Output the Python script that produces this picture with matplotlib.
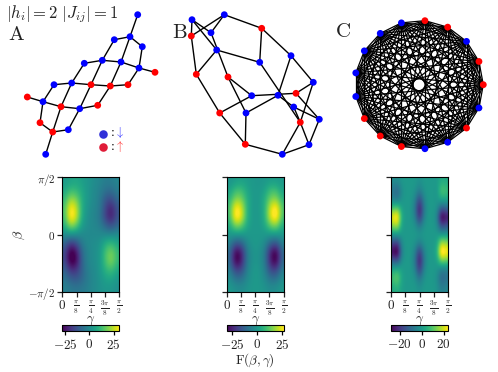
import numpy as np
import matplotlib
matplotlib.use('Agg')
import matplotlib.pyplot as plt

plt.rcParams['mathtext.fontset'] = 'cm'
plt.rcParams['font.family'] = 'cmr10'
plt.rcParams['axes.unicode_minus'] = True
plt.rcParams['axes.formatter.use_mathtext'] = True

W, H = 498, 372

# graph A, heavy-hex like lattice
a_x = [137.7, 130, 114.3, 142.3, 84.3, 102.3, 121, 139, 155, 54, 71.7, 91, 110.3, 128, 27.3, 43, 61, 79.7, 97.7, 40, 52.7, 68.3, 45.7]
a_y = [14.7, 36.7, 39.7, 46.7, 63.3, 60.3, 62, 68, 72.3, 84.7, 83, 84.7, 86, 84.7, 97, 101.7, 106.7, 108.7, 105.3, 122.7, 132, 129.7, 154.3]
a_spin = list('bbbbbbbbrbbrrrrbrbrrrbb')
a_edges = [(0, 1), (1, 2), (1, 3), (1, 6), (2, 5), (3, 7), (4, 5), (5, 6), (6, 7), (7, 8),
           (4, 10), (5, 11), (6, 12), (7, 13), (9, 10), (10, 11), (11, 12), (12, 13),
           (9, 15), (10, 16), (11, 17), (12, 18), (14, 15), (15, 16), (16, 17), (17, 18),
           (15, 19), (16, 20), (17, 21), (19, 20), (20, 21), (20, 22)]

# graph B, random 3-regular
b_x = [192, 224.3, 261.7, 191.3, 211, 216.7, 259.7, 291, 196.3, 228, 313.3, 251.7, 278, 296, 293.7, 219.7, 246, 319.3, 300.3, 245.3, 309, 282.3]
b_y = [19.7, 14.7, 28.3, 36, 32.7, 50, 62.3, 55.7, 74.3, 77, 82.3, 95.7, 95.3, 93.3, 107, 113, 113, 119.3, 122.3, 144.3, 144.7, 154.3]
b_spin = list('bbrrbbbbrrbbbrbrbbrrbb')
b_edges = [(0, 3), (0, 4), (0, 5), (1, 3), (1, 4), (1, 2), (2, 6), (2, 7), (3, 8), (4, 9),
           (5, 6), (5, 8), (6, 18), (7, 10), (7, 12), (8, 15), (9, 11), (9, 16), (10, 13),
           (10, 18), (11, 13), (11, 15), (12, 14), (12, 16), (13, 17), (14, 17), (14, 18),
           (15, 19), (16, 19), (17, 20), (18, 20), (18, 21), (19, 21), (20, 21)]

# graph C, complete graph on a ring
c_spin = list('rrbrrbbbbbrrrbbrb')

gamma_ticks = [0, np.pi / 8, np.pi / 4, 3 * np.pi / 8, np.pi / 2]
gamma_labels = ['$0$', r'$\frac{\pi}{8}$', r'$\frac{\pi}{4}$', r'$\frac{3\pi}{8}$', r'$\frac{\pi}{2}$']
beta_ticks = [-np.pi / 2, 0, np.pi / 2]
beta_labels = [r'$-\pi/2$', '$0$', r'$\pi/2$']

# landscapes, rows from beta=+pi/2 down to -pi/2
f_a = [[4, 6, 7, 5, 3, 1, -1, -3, -3, -1],
       [7, 12, 11, 7, 3, 0, -2, -6, -7, -3],
       [11, 23, 19, 8, 3, 0, -3, -12, -15, -7],
       [14, 34, 26, 8, 2, -1, -3, -16, -24, -12],
       [13, 36, 27, 7, 1, -1, -4, -17, -25, -12],
       [9, 22, 16, 4, 1, -1, -2, -9, -14, -8],
       [1, 2, 1, 0, 0, 0, 0, 0, 0, 1],
       [-9, -19, -14, -3, 0, 1, 2, 9, 12, 7],
       [-14, -33, -26, -7, -1, 1, 3, 14, 20, 11],
       [-14, -33, -28, -8, -1, 1, 3, 14, 21, 11],
       [-9, -20, -19, -9, -2, 0, 3, 10, 13, 7],
       [-5, -10, -12, -8, -3, 0, 2, 6, 7, 3],
       [-2, -4, -5, -4, -2, 0, 2, 3, 3, 1]]
f_b = [[-1, 1, 2, 1, 0, -1, 0, 1, 1, 0],
       [2, 9, 9, 3, 0, 0, 2, 9, 9, 2],
       [6, 17, 15, 5, 0, 0, 5, 15, 17, 6],
       [9, 30, 24, 5, 0, 0, 5, 24, 31, 10],
       [8, 32, 25, 5, 0, 0, 5, 25, 33, 9],
       [4, 16, 13, 3, 0, 0, 3, 13, 16, 4],
       [0, 0, 0, 0, 0, 0, 0, 0, 0, 0],
       [-5, -16, -13, -3, 0, 0, -3, -13, -17, -5],
       [-10, -33, -27, -6, -1, -1, -6, -27, -34, -10],
       [-10, -34, -27, -6, -1, -1, -6, -27, -34, -10],
       [-6, -20, -18, -5, 0, 0, -5, -18, -20, -6],
       [-2, -9, -9, -3, 0, 0, -3, -9, -9, -2],
       [0, -2, -3, -1, 0, 0, -1, -3, -2, 0]]
f_c = [[-2, -3, 0, 0, 0, 0, -2, 0, 0, 0, 0, 4, 3],
       [-8, -12, -2, 0, 0, -1, -6, -1, 0, 0, -1, 11, 8],
       [-5, -8, -1, 0, 0, -4, -18, -4, 0, 0, -1, 4, 3],
       [8, 11, 1, 0, 0, -7, -28, -7, 0, 0, -1, -13, -10],
       [24, 30, 3, 0, 0, -5, -24, -5, 0, 0, -4, -34, -27],
       [15, 19, 1, 0, 0, -1, -8, -1, 0, 0, -2, -17, -14],
       [0, 0, 0, 0, 0, 0, 0, 0, 0, 0, 0, 0, 0],
       [-17, -21, -2, 0, 0, -1, -6, -1, 0, 0, 2, 20, 16],
       [-29, -35, -4, 0, 0, -5, -22, -5, 0, 0, 4, 33, 26],
       [-11, -14, -1, 0, 0, -7, -28, -7, 0, 0, 1, 13, 10],
       [4, 6, 1, 0, 0, -4, -21, -4, 0, 0, -1, -7, -6],
       [9, 13, 2, 0, 0, -1, -8, -1, 0, 0, -2, -12, -9],
       [3, 5, 1, 0, 0, 0, -2, 0, 0, 0, -1, -6, -4]]

ranges = [(-28, 31), (-30.5, 26.5), (-28, 24)]
cbar_ticks = [[-25, 0, 25], [-25, 0, 25], [-20, 0, 20]]


def px_axes(left, top, right, bottom):
    return fig.add_axes([left / W, 1 - bottom / H, (right - left) / W, (bottom - top) / H])


fig = plt.figure(figsize=(W / 100, H / 100), dpi=100)

# overlay in pixel coords for the graphs
net = fig.add_axes([0, 0, 1, 1])
net.set_xlim(0, W)
net.set_ylim(H, 0)
net.axis('off')


def draw_graph(xs, ys, spins, edges, lw=1.0):
    for i, j in edges:
        net.plot([xs[i], xs[j]], [ys[i], ys[j]], color='black', lw=lw, zorder=1, solid_capstyle='round')
    cols = ['blue' if s == 'b' else 'red' for s in spins]
    net.scatter(xs, ys, s=24, c=cols, linewidths=0, zorder=2)


draw_graph(a_x, a_y, a_spin, a_edges)
draw_graph(b_x, b_y, b_spin, b_edges)

n = len(c_spin)
ang = 2 * np.pi * np.arange(n) / n
c_x = list(419 + 64.3 * np.cos(ang))
c_y = list(84.7 - 64.3 * np.sin(ang))
c_edges = [(i, j) for i in range(n) for j in range(i + 1, n)]
draw_graph(c_x, c_y, c_spin, c_edges, lw=0.9)

net.text(6, 14, r'$|h_i|=2\ |J_{ij}|=1$', fontsize=12, va='center', color='#222222')
net.text(8, 35, r'$\mathrm{A}$', fontsize=15, va='center', color='#222222')
net.text(172, 33, r'$\mathrm{B}$', fontsize=15, va='center', color='#222222')
net.text(335, 32, r'$\mathrm{C}$', fontsize=15, va='center', color='#222222')

# spin legend
net.scatter([102.5], [133.5], s=38, color='#3030d8', linewidths=0)
net.scatter([102.5], [147], s=38, color='#e01c38', linewidths=0)
net.text(108, 133, '$:$', fontsize=10, ha='left', va='center')
net.text(108, 147, '$:$', fontsize=10, ha='left', va='center')
net.text(119.5, 133, r'$\downarrow$', fontsize=9, ha='center', va='center', color='#3030ff')
net.text(119.5, 147, r'$\uparrow$', fontsize=9, ha='center', va='center', color='#ff3030')

# heatmaps with their colorbars
lefts = [62.3, 226.7, 391]
fields = [f_a, f_b, f_c]
for k in range(3):
    left = lefts[k]
    ax = px_axes(left, 177.3, left + 57, 292)
    im = ax.imshow(np.array(fields[k], dtype=float), cmap='viridis', vmin=ranges[k][0], vmax=ranges[k][1],
                   extent=[0, np.pi / 2, -np.pi / 2, np.pi / 2], aspect='auto', interpolation='bicubic')
    ax.set_xticks(gamma_ticks)
    ax.set_xticklabels(gamma_labels, fontsize=7.5)
    ax.get_xticklabels()[0].set_fontsize(9.5)
    ax.set_yticks(beta_ticks)
    ax.set_yticklabels(beta_labels if k == 0 else [], fontsize=8)
    ax.tick_params(length=3.5, width=0.9, pad=1.5, color='#222222', labelcolor='#222222')
    # pixel position below the fractions, so use the figure overlay
    net.text(left + 28.5, 321, r'$\gamma$', fontsize=9.5, ha='center', va='center', color='#222222')
    if k == 0:
        ax.set_ylabel(r'$\beta$', fontsize=10, color='#222222', va='center')
        ax.yaxis.set_label_coords(-0.76, 0.5)
    cax = px_axes(left, 325, left + 57, 331)
    cb = fig.colorbar(im, cax=cax, orientation='horizontal')
    cb.set_ticks(cbar_ticks[k])
    cb.set_ticklabels(['$%d$' % t for t in cbar_ticks[k]], fontsize=9.5, color='#222222')
    cb.ax.tick_params(length=3, width=0.9, pad=2)

net.text(255, 360, r'$\mathrm{F}(\beta,\gamma)$', fontsize=9.5, ha='center', va='center', color='#222222')

fig.savefig('out.png', dpi=100)
